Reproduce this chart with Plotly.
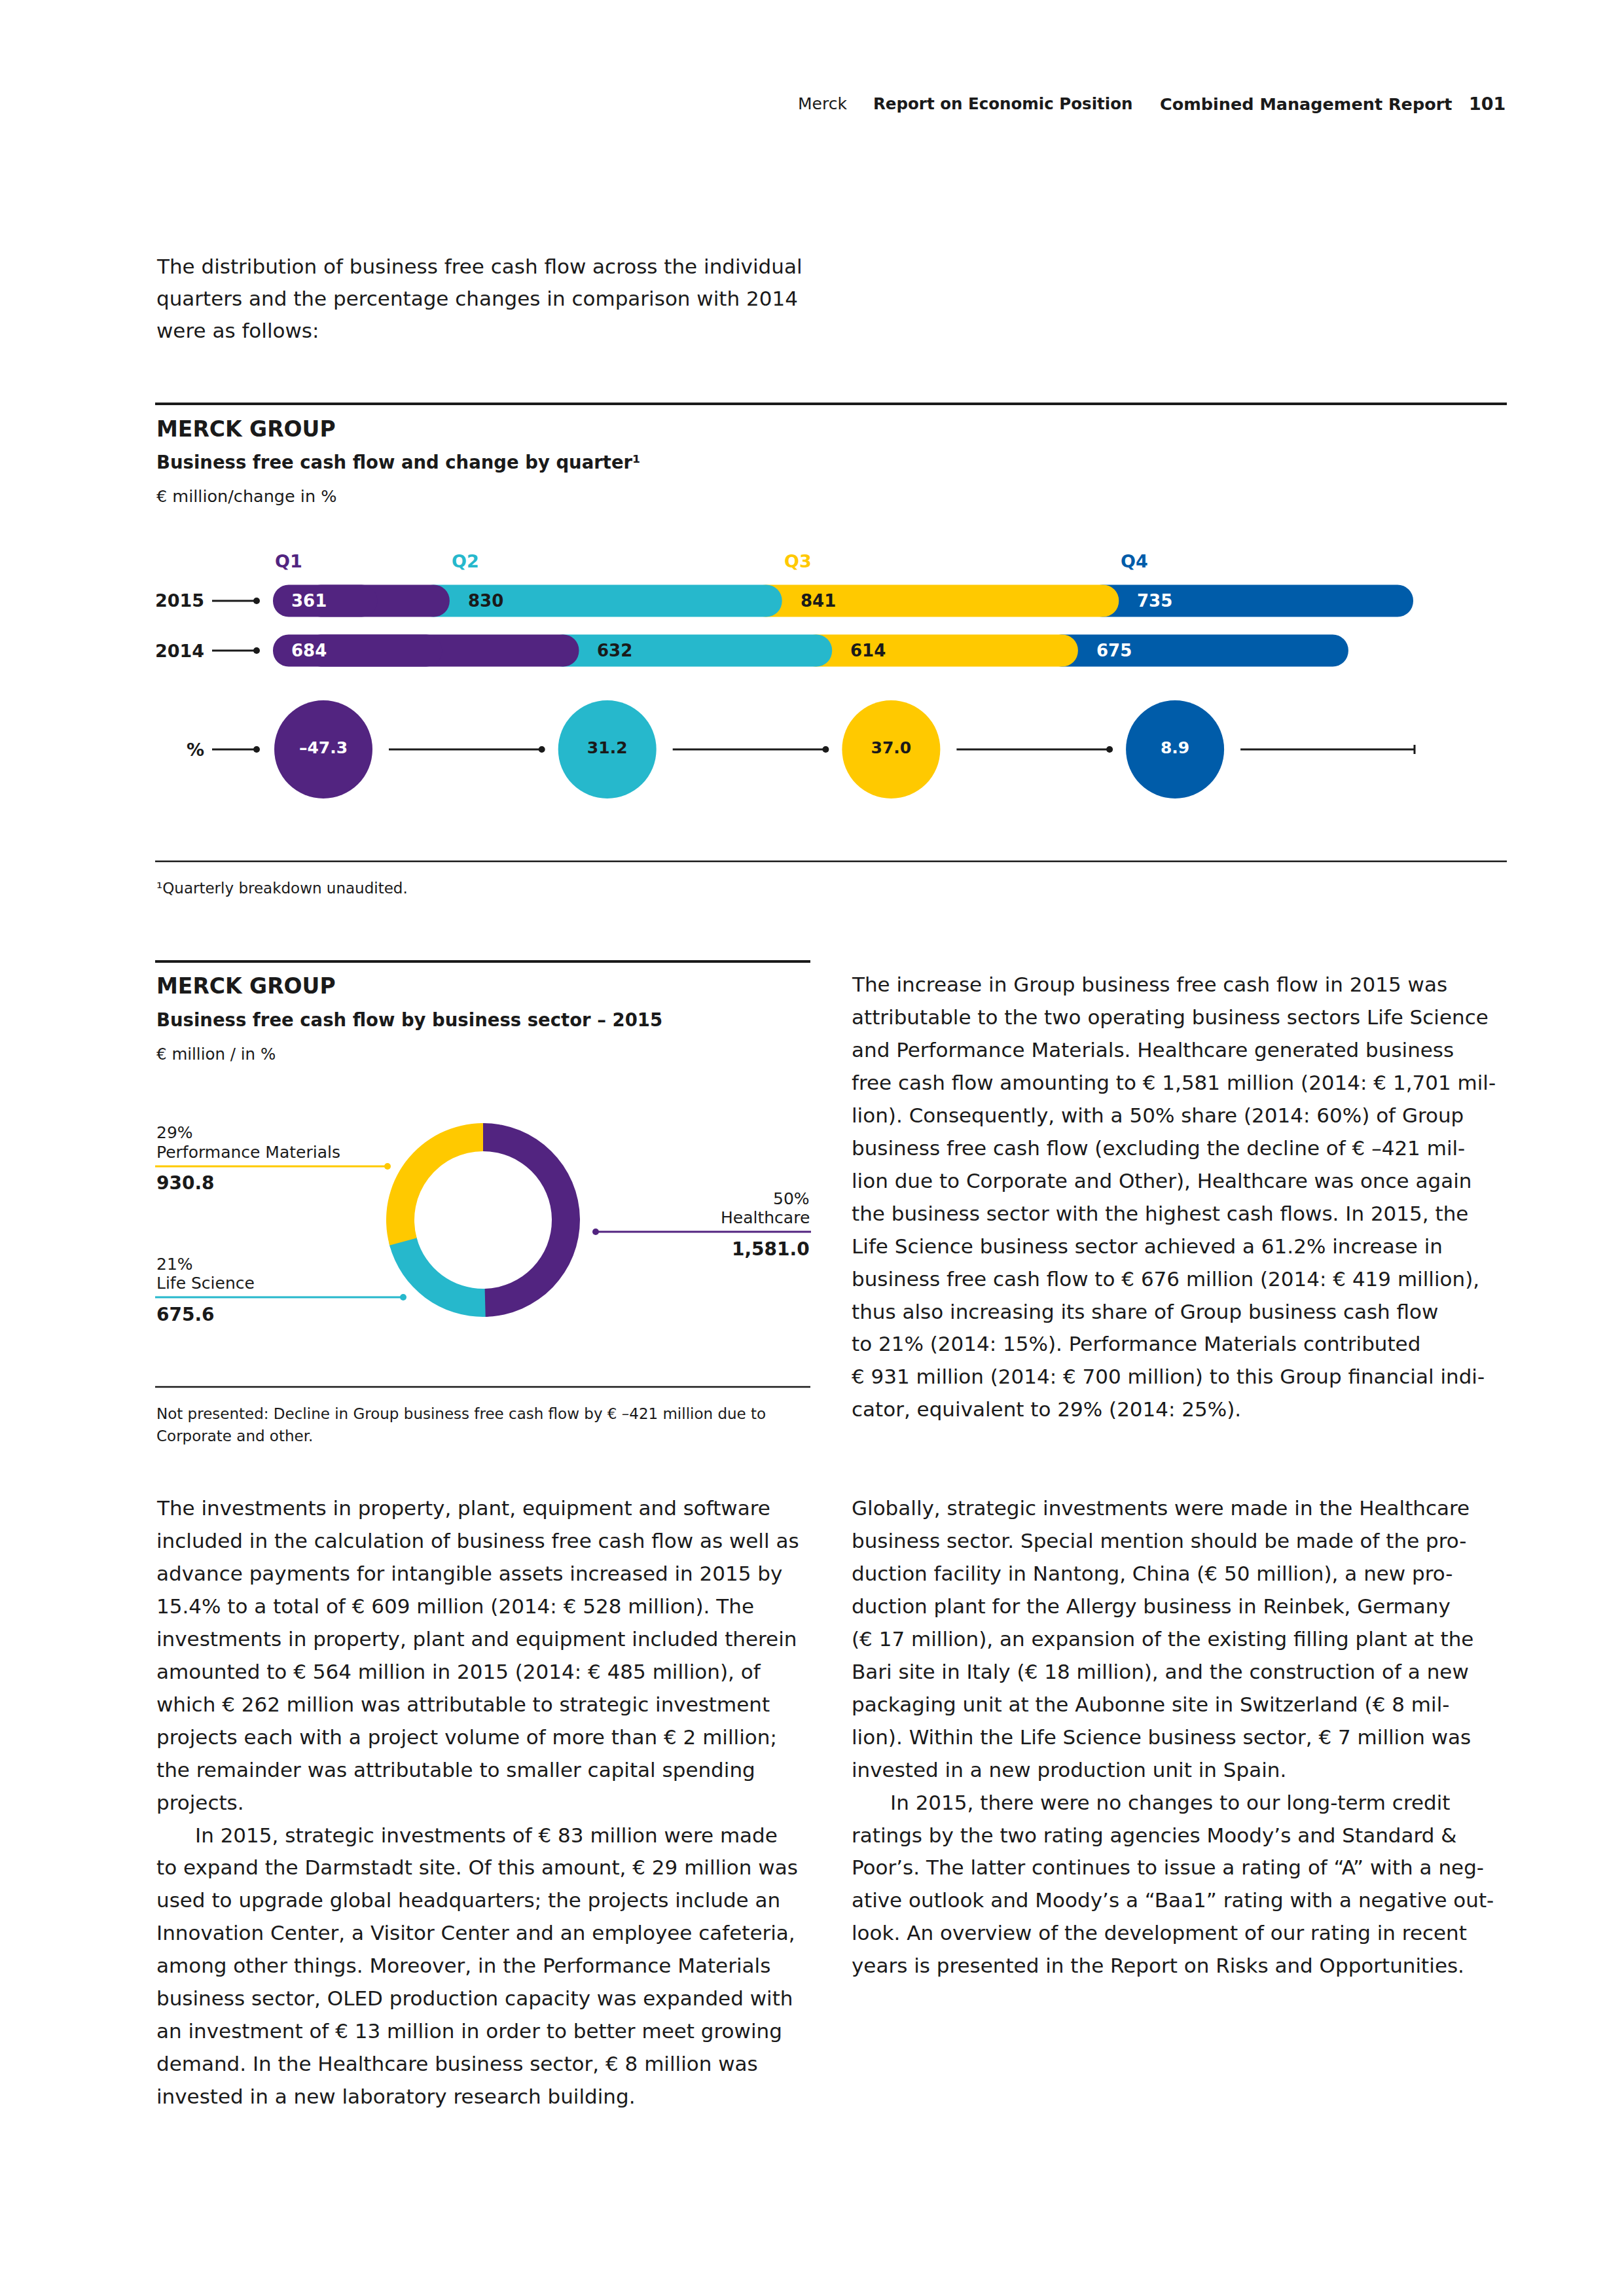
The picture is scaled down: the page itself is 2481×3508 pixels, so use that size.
import math
import plotly.graph_objects as go

W, H = 2481, 3508
FONT = "DejaVu Sans"
INK = "#1a1a1a"

PURPLE = "#522480"
CYAN = "#26b8cc"
YELLOW = "#ffc900"
BLUE = "#005ca9"

# --- data: business free cash flow by quarter (EUR million) ---
quarters = ["Q1", "Q2", "Q3", "Q4"]
years = ["2015", "2014"]
bfcf_2015 = [361, 830, 841, 735]
bfcf_2014 = [684, 632, 614, 675]
change_pct = [-47.3, 31.2, 37.0, 8.9]

# --- data: business free cash flow by sector 2015 ---
sectors = ["Healthcare", "Life Science", "Performance Materials"]
sector_values = [1581.0, 675.6, 930.8]
sector_share = [50, 21, 29]

q_colors = [PURPLE, CYAN, YELLOW, BLUE]
q_font_colors = ["white", INK, INK, "white"]
sector_colors = [PURPLE, CYAN, YELLOW]


def px(x):
    return x / W


def py(y):
    return 1 - y / H


fig = go.Figure()
annots = []
shapes = []


def text(x, y, s, size=31, bold=False, color=INK, anchor="left"):
    if bold:
        s = "<b>" + s + "</b>"
    annots.append(dict(x=px(x), y=py(y), xref="paper", yref="paper", text=s,
                       showarrow=False, xanchor=anchor, yanchor="middle",
                       font=dict(family=FONT, size=size, color=color)))


def hline(x0, x1, y, width=3, color=INK):
    shapes.append(dict(type="line", xref="paper", yref="paper",
                       x0=px(x0), x1=px(x1), y0=py(y), y1=py(y),
                       line=dict(color=color, width=width)))


def dot(x, y, r=5, color=INK):
    shapes.append(dict(type="circle", xref="paper", yref="paper",
                       x0=px(x - r), x1=px(x + r), y0=py(y + r), y1=py(y - r),
                       fillcolor=color, line=dict(width=0)))


# ---------------- quarterly bar chart ----------------
AX_L, AX_R = 300, 2200          # axis domain in page px
BAR_L, BAR_R = 417, 2159        # left edge / right end of longest bar
ROW_TOP, ROW_BOT = 820, 1240
row_y = {"Q": 858, "2015": 918, "2014": 994, "%": 1145}
BAR_H = 49
LEAD = 80                       # rounded lead-in / overlap, in data units

rows = [bfcf_2015, bfcf_2014]
ys = [row_y[y] for y in years]
starts = [[sum(r[:i]) for i in range(4)] for r in rows]
max_total = max(sum(r) for r in rows)
scale = (BAR_R - BAR_L) / (max_total + LEAD)
x_range = [(AX_L - BAR_L) / scale - LEAD, (AX_R - BAR_L) / scale - LEAD]

for i in reversed(range(4)):
    if i == 0:
        base = [0 for _ in rows]
        length = [r[0] for r in rows]
    else:
        base = [s[i] - LEAD for s in starts]
        length = [r[i] + LEAD for r in rows]
    fig.add_trace(go.Bar(orientation="h", y=ys, x=length, base=base, width=BAR_H,
                         marker=dict(color=q_colors[i], cornerradius="50%", line_width=0),
                         xaxis="x", yaxis="y", hoverinfo="skip"))
# rounded left end of Q1 (drawn leftwards from the middle of the segment)
fig.add_trace(go.Bar(orientation="h", y=ys, x=[-(r[0] / 2 + LEAD) for r in rows],
                     base=[r[0] / 2 for r in rows],
                     width=BAR_H, marker=dict(color=PURPLE, cornerradius="50%", line_width=0),
                     xaxis="x", yaxis="y", hoverinfo="skip"))

for r, s, yv in zip(rows, starts, ys):
    for i in range(4):
        annots.append(dict(x=s[i] if i else -LEAD, y=yv, xref="x", yref="y",
                           text="<b>%d</b>" % r[i], showarrow=False, xanchor="left",
                           yanchor="middle", xshift=26,
                           font=dict(family=FONT, size=26, color=q_font_colors[i])))
for i, q in enumerate(quarters):
    annots.append(dict(x=starts[0][i] if i else -LEAD, y=row_y["Q"], xref="x", yref="y",
                       text="<b>" + q + "</b>", showarrow=False, xanchor="left",
                       yanchor="middle", xshift=1,
                       font=dict(family=FONT, size=27, color=q_colors[i])))

# change circles on their own evenly spaced axis
C0, STEP, CR = 494, 433.7, 75
x2_range = [(AX_L - C0) / STEP, (AX_R - C0) / STEP]
pct_text = ["<b>" + ("%.1f" % v).replace("-", "\u2013") + "</b>" for v in change_pct]
fig.add_trace(go.Scatter(x=list(range(len(change_pct))), y=[row_y["%"]] * len(change_pct),
                         mode="markers+text", text=pct_text, textposition="middle center",
                         marker=dict(size=2 * CR, color=q_colors, line_width=0),
                         textfont=dict(family=FONT, size=25, color=q_font_colors),
                         xaxis="x2", yaxis="y", cliponaxis=False, hoverinfo="skip"))

# row labels with connectors
for lab in ["2015", "2014", "%"]:
    text(314, row_y[lab], lab, size=27, bold=True, anchor="right")
    hline(324, 392, row_y[lab])
    dot(392, row_y[lab])
gap = CR + 25
for i in range(len(change_pct)):
    x0 = C0 + i * STEP + gap
    if i < len(change_pct) - 1:
        x1 = C0 + (i + 1) * STEP - gap
        hline(x0, x1, row_y["%"])
        dot(x1, row_y["%"])
    else:
        hline(x0, BAR_R + 2, row_y["%"])
        shapes.append(dict(type="line", xref="paper", yref="paper",
                           x0=px(BAR_R + 2), x1=px(BAR_R + 2),
                           y0=py(row_y["%"] - 7), y1=py(row_y["%"] + 7),
                           line=dict(color=INK, width=3)))

# ---------------- sector donut ----------------
DC_X, DC_Y, R_OUT, R_IN = 738, 1864, 148, 105
dom_x = [px(DC_X - R_OUT), px(DC_X + R_OUT)]
dom_y = [py(DC_Y + R_OUT), py(DC_Y - R_OUT)]
fig.add_trace(go.Pie(values=sector_values, labels=sectors, sort=False,
                     direction="clockwise", rotation=0, hole=R_IN / R_OUT,
                     marker=dict(colors=sector_colors, line=dict(width=0)),
                     textinfo="none", domain=dict(x=dom_x, y=dom_y), hoverinfo="skip"))
# rounded slice ends
total = sum(sector_values)
r_mid = (R_OUT + R_IN) / 2
cx, cy = [], []
cum = 0
for v in sector_values:
    cum += v
    th = 2 * math.pi * cum / total
    cx.append(r_mid * math.sin(th))
    cy.append(r_mid * math.cos(th))
fig.add_trace(go.Scatter(x=cx, y=cy, mode="markers", xaxis="x3", yaxis="y3",
                         marker=dict(size=R_OUT - R_IN, color=sector_colors, line_width=0),
                         cliponaxis=False, hoverinfo="skip"))

# donut labels
lab_pos = {
    "Performance Materials": dict(x=237, y=1731, line=(237, 592), dot=592, anchor="left"),
    "Life Science": dict(x=237, y=1931, line=(237, 616), dot=616, anchor="left"),
    "Healthcare": dict(x=1239, y=1831, line=(910, 1239), dot=910, anchor="right"),
}
for name, val, share, col in zip(sectors, sector_values, sector_share, sector_colors):
    p = lab_pos[name]
    text(p["x"], p["y"], "%d%%" % share, size=25, anchor=p["anchor"])
    text(p["x"], p["y"] + 29, name, size=25, anchor=p["anchor"])
    hline(p["line"][0], p["line"][1], p["y"] + 51, width=3, color=col)
    dot(p["dot"], p["y"] + 51, r=5, color=col)
    text(p["x"], p["y"] + 77, "{:,.1f}".format(val), size=28, bold=True, anchor=p["anchor"])

# ---------------- page text ----------------
text(1217, 159, "Merck", size=25)
text(1332, 159, "Report on Economic Position", size=24.5, bold=True)
text(1770, 159, "Combined Management Report", size=25.5, bold=True)
text(2302, 159, "101", size=27, bold=True, anchor="right")

intro = ["The distribution of business free cash flow across the individual",
         "quarters and the percentage changes in comparison with 2014",
         "were as follows:"]
for k, ln in enumerate(intro):
    text(237, 407 + 49 * k, ln)

hline(237, 2302, 617, width=4)
text(237, 655, "MERCK GROUP", size=33, bold=True)
text(237, 706, "Business free cash flow and change by quarter\u00b9", size=27.5, bold=True)
text(237, 758, "\u20ac million/change in %", size=25.5)
hline(237, 2302, 1316, width=2.5)
text(237, 1357, "\u00b9Quarterly breakdown unaudited.", size=23)

hline(237, 1238, 1469, width=4)
text(237, 1506, "MERCK GROUP", size=33, bold=True)
text(237, 1558, "Business free cash flow by business sector \u2013 2015", size=27.5, bold=True)
text(237, 1610, "\u20ac million / in %", size=24.5)
hline(237, 1238, 2119, width=2.5)
text(237, 2160, "Not presented: Decline in Group business free cash flow by \u20ac \u2013421 million due to", size=23)
text(237, 2194, "Corporate and other.", size=23)

right_top = [
    "The increase in Group business free cash flow in 2015 was",
    "attributable to the two operating business sectors Life Science",
    "and Performance Materials. Healthcare generated business",
    "free cash flow amounting to \u20ac 1,581 million (2014: \u20ac 1,701 mil-",
    "lion). Consequently, with a 50% share (2014: 60%) of Group",
    "business free cash flow (excluding the decline of \u20ac \u2013421 mil-",
    "lion due to Corporate and Other), Healthcare was once again",
    "the business sector with the highest cash flows. In 2015, the",
    "Life Science business sector achieved a 61.2% increase in",
    "business free cash flow to \u20ac 676 million (2014: \u20ac 419 million),",
    "thus also increasing its share of Group business cash flow",
    "to 21% (2014: 15%). Performance Materials contributed",
    "\u20ac 931 million (2014: \u20ac 700 million) to this Group financial indi-",
    "cator, equivalent to 29% (2014: 25%).",
]
left_bottom = [
    "The investments in property, plant, equipment and software",
    "included in the calculation of business free cash flow as well as",
    "advance payments for intangible assets increased in 2015 by",
    "15.4% to a total of \u20ac 609 million (2014: \u20ac 528 million). The",
    "investments in property, plant and equipment included therein",
    "amounted to \u20ac 564 million in 2015 (2014: \u20ac 485 million), of",
    "which \u20ac 262 million was attributable to strategic investment",
    "projects each with a project volume of more than \u20ac 2 million;",
    "the remainder was attributable to smaller capital spending",
    "projects.",
    ">In 2015, strategic investments of \u20ac 83 million were made",
    "to expand the Darmstadt site. Of this amount, \u20ac 29 million was",
    "used to upgrade global headquarters; the projects include an",
    "Innovation Center, a Visitor Center and an employee cafeteria,",
    "among other things. Moreover, in the Performance Materials",
    "business sector, OLED production capacity was expanded with",
    "an investment of \u20ac 13 million in order to better meet growing",
    "demand. In the Healthcare business sector, \u20ac 8 million was",
    "invested in a new laboratory research building.",
]
right_bottom = [
    "Globally, strategic investments were made in the Healthcare",
    "business sector. Special mention should be made of the pro-",
    "duction facility in Nantong, China (\u20ac 50 million), a new pro-",
    "duction plant for the Allergy business in Reinbek, Germany",
    "(\u20ac 17 million), an expansion of the existing filling plant at the",
    "Bari site in Italy (\u20ac 18 million), and the construction of a new",
    "packaging unit at the Aubonne site in Switzerland (\u20ac 8 mil-",
    "lion). Within the Life Science business sector, \u20ac 7 million was",
    "invested in a new production unit in Spain.",
    ">In 2015, there were no changes to our long-term credit",
    "ratings by the two rating agencies Moody\u2019s and Standard &amp;",
    "Poor\u2019s. The latter continues to issue a rating of \u201cA\u201d with a neg-",
    "ative outlook and Moody\u2019s a \u201cBaa1\u201d rating with a negative out-",
    "look. An overview of the development of our rating in recent",
    "years is presented in the Report on Risks and Opportunities.",
]


def column(lines, x, y0):
    for k, ln in enumerate(lines):
        xx = x
        if ln.startswith(">"):
            ln = ln[1:]
            xx = x + 59
        text(xx, y0 + 49.95 * k, ln)


column(right_top, 1299, 1504)
column(left_bottom, 237, 2304)
column(right_bottom, 1299, 2304)

hidden = dict(visible=False, showgrid=False, zeroline=False, fixedrange=True)
fig.update_layout(
    width=W, height=H,
    margin=dict(l=0, r=0, t=0, b=0),
    paper_bgcolor="white", plot_bgcolor="rgba(0,0,0,0)",
    showlegend=False, barmode="overlay",
    xaxis=dict(domain=[px(AX_L), px(AX_R)], range=x_range, anchor="y", **hidden),
    xaxis2=dict(domain=[px(AX_L), px(AX_R)], range=x2_range, anchor="y",
                overlaying="x", **hidden),
    yaxis=dict(domain=[py(ROW_BOT), py(ROW_TOP)], range=[ROW_BOT, ROW_TOP], anchor="x", **hidden),
    xaxis3=dict(domain=dom_x, range=[-R_OUT, R_OUT], anchor="y3", **hidden),
    yaxis3=dict(domain=dom_y, range=[-R_OUT, R_OUT], anchor="x3", **hidden),
    annotations=annots, shapes=shapes,
    font=dict(family=FONT, color=INK),
)

fig.write_html("out.html", config={"displayModeBar": False},
               post_script="document.body.style.margin='0';")
